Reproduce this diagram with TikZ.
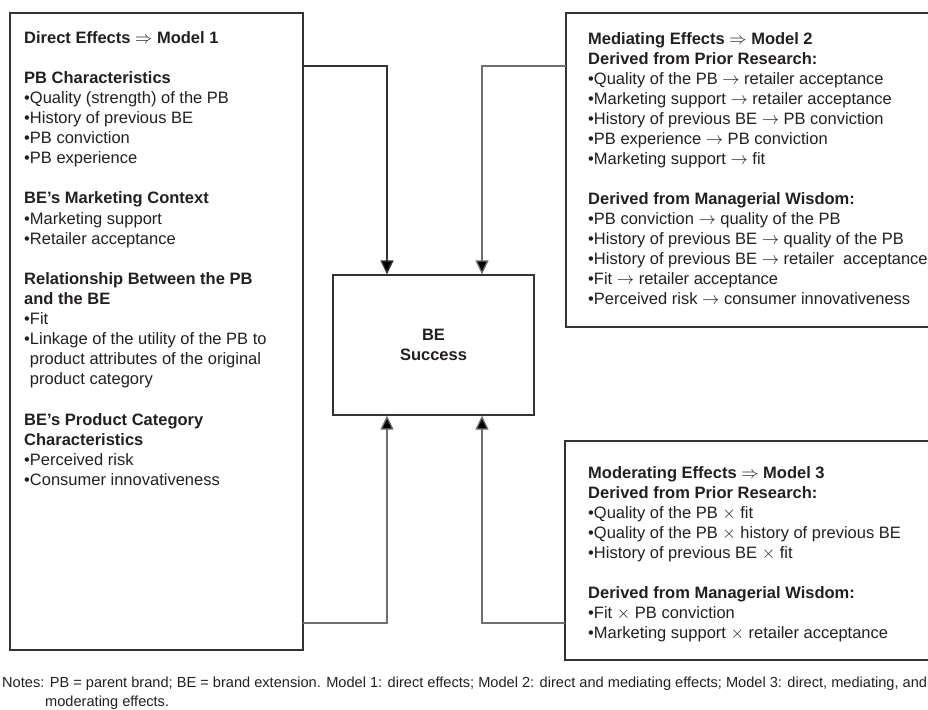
\documentclass[tikz,border=0pt]{standalone}
\usepackage{fontspec}
\setmainfont{Liberation Sans}
\usetikzlibrary{arrows.meta}
\definecolor{ink}{HTML}{231F20}
\definecolor{frame}{HTML}{333333}
\definecolor{wire}{HTML}{707070}
\tikzset{
  panel/.style={draw=frame, line width=1.3pt, fill=none, inner sep=0pt},
  body/.style={anchor=north west, inner sep=0pt, align=left, text=ink,
    font=\fontsize{16.5}{20.1}\selectfont},
  conn/.style={draw=wire, line width=1.3pt,
    -{Triangle[width=13pt,length=14pt,fill=black]}},
  darkconn/.style={conn, draw=frame},
}
\newcommand{\bu}{\textbullet}
\newcommand{\hd}[1]{\textbf{#1}}
\begin{document}
\begin{tikzpicture}[x=1pt,y=-1pt]
\useasboundingbox (0,0) rectangle (928,709);
\begin{scope}
\clip (0,0) rectangle (928,709);

% frames
\draw[panel] (10,13) rectangle (303,650);
\node[panel, minimum width=201pt, minimum height=140pt] (be) at (433.5,345) {};
\draw[panel] (566,13) rectangle (940,327);
\draw[panel] (565,441) rectangle (940,660);
\coordinate (lbox-e) at (303,0);
\coordinate (mbox-w) at (566,0);
\coordinate (obox-w) at (565,0);

% left panel: direct effects
\node[body] (direct) at (24,31) {%
\hd{Direct Effects $\Rightarrow$ Model 1}\\[20.1pt]
\hd{PB Characteristics}\\
\bu Quality (strength) of the PB\\
\bu History of previous BE\\
\bu PB conviction\\
\bu PB experience\\[20.1pt]
\hd{BE's Marketing Context}\\
\bu Marketing support\\
\bu Retailer acceptance\\[20.1pt]
\hd{Relationship Between the PB}\\
\hd{and the BE}\\
\bu Fit\\
\bu Linkage of the utility of the PB to\\
\hphantom{\bu}product attributes of the original\\
\hphantom{\bu}product category\\[20.1pt]
\hd{BE's Product Category}\\
\hd{Characteristics}\\
\bu Perceived risk\\
\bu Consumer innovativeness};

% upper right panel: mediating effects
\node[body, font=\fontsize{16.5}{20}\selectfont] (mediating) at (588,32) {%
\hd{Mediating Effects $\Rightarrow$ Model 2}\\
\hd{Derived from Prior Research:}\\
\bu Quality of the PB $\rightarrow$ retailer acceptance\\
\bu Marketing support $\rightarrow$ retailer acceptance\\
\bu History of previous BE $\rightarrow$ PB conviction\\
\bu PB experience $\rightarrow$ PB conviction\\
\bu Marketing support $\rightarrow$ fit\\[20pt]
\hd{Derived from Managerial Wisdom:}\\
\bu PB conviction $\rightarrow$ quality of the PB\\
\bu History of previous BE $\rightarrow$ quality of the PB\\
\bu History of previous BE $\rightarrow$ retailer\ \ acceptance\\
\bu Fit $\rightarrow$ retailer acceptance\\
\bu Perceived risk $\rightarrow$ consumer innovativeness};

% lower right panel: moderating effects
\node[body, font=\fontsize{16.5}{20}\selectfont] (moderating) at (588,466) {%
\hd{Moderating Effects $\Rightarrow$ Model 3}\\
\hd{Derived from Prior Research:}\\
\bu Quality of the PB $\times$ fit\\
\bu Quality of the PB $\times$ history of previous BE\\
\bu History of previous BE $\times$ fit\\[20pt]
\hd{Derived from Managerial Wisdom:}\\
\bu Fit $\times$ PB conviction\\
\bu Marketing support $\times$ retailer acceptance};

% outcome
\node[align=center, text=ink, font=\fontsize{16.5}{19.5}\selectfont\bfseries,
  inner sep=0pt] (outcome) at (be.center) {BE\\Success};

% connectors
\coordinate (ta) at (387,66);
\coordinate (tb) at (482,66);
\coordinate (ba) at (387,623);
\coordinate (bb) at (482,623);
\draw[darkconn] (lbox-e |- ta) -| (ta |- be.north);
\draw[conn] (mbox-w |- tb) -| (tb |- be.north);
\draw[conn] (lbox-e |- ba) -| (ba |- be.south);
\draw[conn] (obox-w |- bb) -| (bb |- be.south);

% notes
\node[anchor=north west, inner sep=0pt, align=left, text=ink,
  font=\fontsize{14.6}{19}\selectfont] (notes) at (2,677) {%
Notes: PB = parent brand; BE = brand extension. Model 1: direct effects; Model 2: direct and mediating effects; Model 3: direct, mediating, and\\
\hspace{43pt}moderating effects.};
\end{scope}
\end{tikzpicture}
\end{document}
